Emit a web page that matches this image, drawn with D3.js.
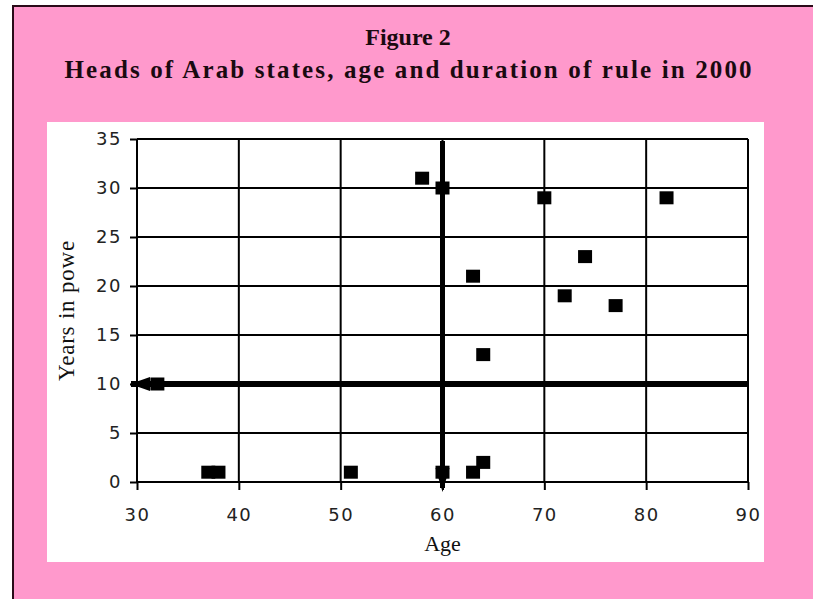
<!DOCTYPE html>
<html>
<head>
<meta charset="utf-8">
<script src="https://cdn.jsdelivr.net/npm/d3@7"></script>
<style>
  html, body { margin: 0; padding: 0; background: #ffffff; }
  svg { display: block; }
</style>
</head>
<body>
<svg id="chart" width="813" height="599"></svg>
<script>
// ---- data ----
const titleLines = ["Figure 2", "Heads of Arab states, age and duration of rule in 2000"];
const ages  = [58, 60, 70, 82, 63, 74, 72, 77, 64, 32, 37, 38, 51, 60, 63, 64];
const years = [31, 30, 29, 29, 21, 23, 19, 18, 13, 10,  1,  1,  1,  1,  1,  2];
const xTicks = [30, 40, 50, 60, 70, 80, 90];
const yTicks = [0, 5, 10, 15, 20, 25, 30, 35];
const refAge = 60;     // vertical reference line
const refYears = 10;   // horizontal reference line
const xTitle = "Age";
const yTitle = "Years in powe";

// ---- layout ----
const svg = d3.select("#chart");
const pink = "#ff99cc";
const plot = { left: 137, right: 748, top: 139, bottom: 482 };

// outer frame
svg.append("rect").attr("x", 13).attr("y", 6).attr("width", 900).attr("height", 700)
  .attr("fill", pink).attr("stroke", "#2a0a18").attr("stroke-width", 2);

// white chart panel
svg.append("rect").attr("x", 47).attr("y", 122).attr("width", 717).attr("height", 440)
  .attr("fill", "#ffffff");

// titles
svg.append("text").attr("x", 408).attr("y", 45).attr("text-anchor", "middle")
  .attr("font-family", "Liberation Serif").attr("font-weight", "bold").attr("font-size", 24)
  .attr("fill", "#1a0a10").text(titleLines[0]);
svg.append("text").attr("x", 408).attr("y", 78).attr("text-anchor", "middle")
  .attr("font-family", "Liberation Serif").attr("font-weight", "bold").attr("font-size", 25)
  .attr("textLength", 687).attr("lengthAdjust", "spacing")
  .attr("fill", "#1a0a10").text(titleLines[1]);

// scales
const x = d3.scaleLinear().domain([30, 90]).range([plot.left, plot.right]);
const y = d3.scaleLinear().domain([0, 35]).range([plot.bottom, plot.top]);

const g = svg.append("g");

// grid lines
g.selectAll(".vgrid").data(xTicks).join("line")
  .attr("x1", d => x(d)).attr("x2", d => x(d))
  .attr("y1", y(35)).attr("y2", y(0))
  .attr("stroke", "#000").attr("stroke-width", 2);
g.selectAll(".hgrid").data(yTicks).join("line")
  .attr("x1", x(30)).attr("x2", x(90))
  .attr("y1", d => y(d)).attr("y2", d => y(d))
  .attr("stroke", "#000").attr("stroke-width", 2);

// axes
const xAxis = d3.axisBottom(x).tickValues(xTicks).tickSize(8).tickPadding(18);
const yAxis = d3.axisLeft(y).tickValues(yTicks).tickSize(7).tickPadding(8);

const gx = g.append("g").attr("transform", `translate(0,${plot.bottom})`).call(xAxis);
const gy = g.append("g").attr("transform", `translate(${plot.left},0)`).call(yAxis);
[gx, gy].forEach(a => {
  a.select(".domain").remove();
  a.selectAll(".tick line").attr("stroke", "#000").attr("stroke-width", 2);
  a.selectAll(".tick text").attr("font-family", "DejaVu Sans").attr("font-size", 18)
    .attr("letter-spacing", 1.5).attr("fill", "#222");
});

// axis titles
svg.append("text").attr("x", (plot.left + plot.right) / 2).attr("y", 551)
  .attr("text-anchor", "middle").attr("font-family", "Liberation Serif")
  .attr("font-size", 22).attr("fill", "#111").text(xTitle);
svg.append("text")
  .attr("transform", `translate(74,${(plot.top + plot.bottom) / 2}) rotate(-90)`)
  .attr("text-anchor", "middle").attr("font-family", "Liberation Serif")
  .attr("font-size", 23).attr("letter-spacing", 0.8).attr("fill", "#111").text(yTitle);

// reference lines
g.append("line").attr("x1", x(90)).attr("x2", x(30) - 6)
  .attr("y1", y(refYears)).attr("y2", y(refYears))
  .attr("stroke", "#000").attr("stroke-width", 6);
g.append("line").attr("x1", x(refAge)).attr("x2", x(refAge))
  .attr("y1", y(35) + 2).attr("y2", y(0) + 6)
  .attr("stroke", "#000").attr("stroke-width", 5);

// arrowheads
const ax0 = x(30), ay0 = y(refYears);
g.append("path")
  .attr("d", `M${ax0 - 7},${ay0} L${ax0 + 13},${ay0 - 7} L${ax0 + 13},${ay0 + 7} Z`)
  .attr("fill", "#000");
const bx0 = x(refAge), by0 = y(0);
g.append("path")
  .attr("d", `M${bx0},${by0 + 10} L${bx0 - 7},${by0 - 14} L${bx0 + 7},${by0 - 14} Z`)
  .attr("fill", "#000");

// points
const pts = ages.map((a, i) => ({ age: a, yrs: years[i] }));
g.selectAll(".pt").data(pts).join("rect")
  .attr("x", d => x(d.age) - 7).attr("y", d => y(d.yrs) - 6.5)
  .attr("width", 14).attr("height", 13).attr("fill", "#000");
</script>
</body>
</html>
